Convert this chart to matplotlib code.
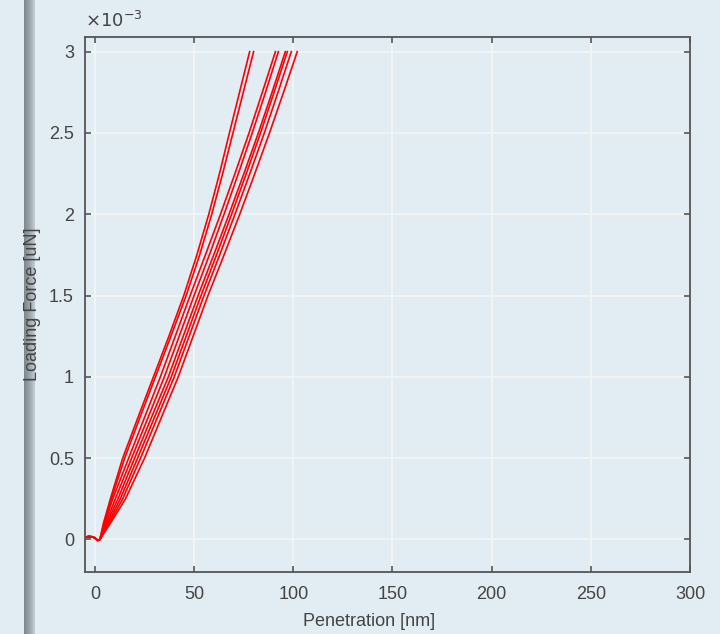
import matplotlib.pyplot as plt
import numpy as np
from matplotlib.ticker import FuncFormatter
from matplotlib.colors import LinearSegmentedColormap

force_levels = [0.0, 0.1, 0.25, 0.5, 0.75, 1.0, 1.25, 1.5, 1.75, 2.0, 2.25, 2.5, 2.75, 3.0]

# penetration [nm] of each loading curve at those force levels
curve_1 = [2.5, 4.3, 7.8, 14.0, 21.7, 29.5, 37.3, 44.8, 51.4, 57.4, 62.8, 67.8, 72.9, 78.0]
curve_2 = [2.5, 4.6, 8.3, 15.0, 22.7, 30.5, 38.3, 46.0, 52.8, 58.9, 64.4, 69.6, 74.8, 80.0]
curve_3 = [2.5, 5.0, 9.0, 17.0, 25.0, 33.0, 40.5, 48.0, 55.7, 63.3, 70.6, 77.7, 84.4, 91.0]
curve_4 = [2.5, 5.5, 10.3, 18.5, 26.8, 35.0, 42.5, 50.0, 57.7, 65.1, 72.3, 79.3, 86.0, 92.5]
curve_5 = [2.5, 6.0, 11.6, 20.0, 28.5, 37.0, 44.5, 52.0, 59.9, 67.6, 75.1, 82.4, 89.3, 96.0]
curve_6 = [2.5, 6.6, 12.8, 21.5, 30.0, 38.5, 46.0, 53.5, 61.3, 68.9, 76.3, 83.5, 90.3, 97.0]
curve_7 = [2.5, 7.2, 14.0, 23.0, 31.5, 40.0, 47.5, 55.0, 62.9, 70.6, 78.1, 85.4, 92.3, 99.0]
curve_8 = [2.5, 7.8, 15.4, 25.0, 33.5, 42.0, 49.5, 57.0, 65.1, 73.0, 80.6, 88.0, 95.1, 102.0]
curves = [curve_1, curve_2, curve_3, curve_4, curve_5, curve_6, curve_7, curve_8]

# shared pre-contact segment
pre_x = [-5.0, -3.0, -1.0, 0.5, 1.5]
pre_f = [0.015, 0.018, 0.016, 0.004, -0.006]

xticks = [0, 50, 100, 150, 200, 250, 300]
yticks = [0, 0.5, 1, 1.5, 2, 2.5, 3]

bg = '#e1edf3'
plt.rcParams['font.family'] = ['Liberation Sans', 'DejaVu Sans']
fig = plt.figure(figsize=(7.2, 6.34), dpi=100, facecolor=bg)

# grey divider bar on the left
bar = fig.add_axes([24 / 720, 0, 11 / 720, 1])
cmap = LinearSegmentedColormap.from_list('g', ['#7c878d', '#9aa5ab', '#c4ced3'])
bar.imshow(np.linspace(0, 1, 50)[None, :], aspect='auto', cmap=cmap, extent=[0, 1, 0, 1])
bar.axis('off')

ax = fig.add_axes([85 / 720, 1 - 572 / 634, 605 / 720, 535 / 634], facecolor=bg)
ax.set_zorder(2)

for c in curves:
    x = pre_x + c
    y = np.array(pre_f + force_levels) * 1e-3
    ax.plot(x, y, color='#ff0000', lw=1.2)

ax.set_xlim(-5, 300)
ax.set_ylim(-0.2e-3, 3.09e-3)
ax.set_xticks(xticks)
ax.set_yticks(np.array(yticks) * 1e-3)
ax.yaxis.set_major_formatter(FuncFormatter(lambda v, p: '%g' % round(v * 1e3, 3)))
ax.text(0.0, 1.012, r'$\times10^{-3}$', transform=ax.transAxes, fontsize=13,
        color='#444444', ha='left', va='bottom')

ax.grid(True, color='#f2f3f3', lw=1.5)
ax.set_axisbelow(True)
ax.tick_params(direction='in', top=True, right=True, length=4, width=1.2,
               colors='#555555', labelcolor='#444444', labelsize=13)
ax.tick_params(axis='x', pad=10)
ax.tick_params(axis='y', pad=8)
for s in ax.spines.values():
    s.set_color('#555555')
    s.set_linewidth(1.3)

ax.set_xlabel('Penetration [nm]', fontsize=13, color='#444444', va='center')
ax.xaxis.set_label_coords(0.47, -50 / 535)
ax.set_ylabel('Loading Force [uN]', fontsize=13, color='#444444', va='center')
ax.yaxis.set_label_coords(-52 / 605, 0.5)

fig.savefig('out.png', dpi=100, facecolor=bg)
